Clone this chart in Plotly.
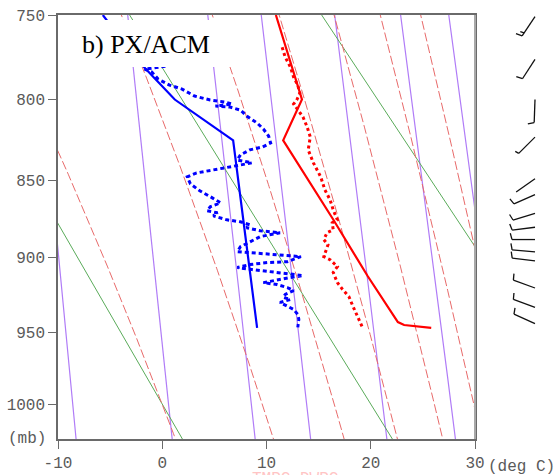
import numpy as np
import plotly.graph_objects as go

KAPPA = 2.0 / 7.0
P_TOP, P_BOT = 750.0, 1025.0
T_MIN, T_MAX = -10, 30

pres_ticks = [750, 800, 850, 900, 950, 1000]
temp_ticks = [-10, 0, 10, 20, 30]

# model sounding (solid)
model_t_p = [750, 800, 825, 875, 912, 932, 943, 945, 947]
model_t = [10.9, 13.4, 11.6, 16.4, 19.7, 21.6, 22.6, 23.2, 25.8]
model_td_p = [750, 775, 800, 825, 947]
model_td = [-5.7, -2.6, 1.2, 6.8, 9.1]

# observed sounding (dotted)
obs_t_p = [768.8, 774.7, 780.6, 786.5, 791.3, 796.1, 800.3, 802.7, 810.6, 816.8,
           822.9, 830.9, 839.0, 847.8, 856.0, 862.4, 868.8, 875.2, 877.1, 881.6,
           883.6, 888.1, 891.4, 899.2, 901.2, 905.8, 909.7, 916.4, 921.0, 925.7,
           932.4, 939.1, 946.6]
obs_t = [11.5, 11.8, 12.3, 12.6, 13.0, 13.2, 12.9, 12.6, 13.5, 13.9,
         14.2, 14.0, 14.5, 15.2, 15.6, 16.1, 16.4, 16.8, 16.3, 16.4,
         15.8, 15.5, 15.9, 15.5, 16.1, 16.8, 16.4, 16.8, 17.3, 17.9,
         18.3, 18.7, 19.2]
obs_td_p = [780.0, 781.8, 783.5, 787.7, 791.3, 793.7, 797.9, 800.3, 801.5, 802.7,
            804.0, 804.6, 806.4, 810.0, 814.3, 818.0, 822.3, 826.6, 829.1, 830.9,
            834.0, 837.2, 839.0, 841.5, 843.4, 845.3, 847.8, 852.2, 856.6, 861.1,
            864.3, 866.8, 869.4, 870.7, 872.6, 875.2, 876.5, 878.4, 880.3, 882.3,
            883.6, 886.1, 889.4, 892.7, 895.9, 896.6, 897.9, 899.2, 902.5, 903.1,
            904.4, 906.4, 907.7, 909.1, 910.4, 911.7, 913.0, 915.0, 916.4, 917.7,
            919.7, 921.7, 924.3, 926.3, 927.7, 929.7, 932.4, 934.4, 937.8, 941.1,
            946.6]
obs_td = [0.3, -1.7, -1.0, -0.4, 0.7, 1.9, 3.1, 4.6, 6.0, 6.7,
          5.1, 6.5, 7.5, 8.1, 9.1, 9.7, 10.2, 10.4, 9.6, 8.4,
          7.5, 7.2, 8.6, 6.7, 4.9, 3.3, 2.4, 2.7, 3.6, 4.8,
          5.6, 4.6, 4.3, 5.3, 4.9, 6.2, 7.5, 8.4, 8.1, 9.4,
          11.3, 9.4, 8.4, 7.5, 7.2, 8.6, 10.4, 13.3, 12.0, 10.1,
          8.4, 7.2, 8.6, 10.4, 12.3, 13.5, 12.3, 10.6, 9.7, 11.0,
          12.0, 12.6, 11.8, 11.6, 12.3, 11.3, 12.0, 12.6, 13.0, 13.1,
          13.0]

# wind barbs (direction from, speed in knots)
barb_p = [751, 776, 800, 823, 849, 859, 871, 880, 888, 896, 902, 920, 933, 944]
barb_dir = [214, 213, 182, 225, 235, 246, 253, 263, 270, 275, 277, 290, 290, 294]
barb_spd = [15, 10, 10, 5, 0, 10, 10, 10, 10, 10, 10, 10, 10, 10]

# background lines
mixr_vals = [2, 4, 7, 10, 16, 24, 32]          # g/kg
theta_vals = [0, 20, 40]                        # deg C (dry adiabats)
thetaw_vals = [0, 9.6, 16.5, 21.7, 26.1, 29.9, 33.3]  # deg C at 1000 mb

def yv(p):
    return np.asarray(p, dtype=float) ** KAPPA

p_line = np.linspace(740, 1035, 120)

def es(tc):
    return 6.112 * np.exp(17.67 * tc / (tc + 243.5))

def mixr_td(w, p):
    e = p * w / (622.0 + w)
    a = np.log(e / 6.112)
    return 243.5 * a / (17.67 - a)

def moist(tw):
    Rd, cp, Lv, eps = 287.04, 1005.7, 2.501e6, 0.622
    def f(T, lnp):
        p = np.exp(lnp)
        e = es(T - 273.15)
        rs = eps * e / (p - e)
        return (Rd * T + Lv * rs) / (cp + Lv * Lv * rs * eps / (Rd * T * T))
    out = {}
    for target in (740.0, 1035.0):
        T = tw + 273.15
        lnp = np.log(1000.0)
        n = 200
        h = (np.log(target) - lnp) / n
        pts = []
        for i in range(n + 1):
            pts.append((np.exp(lnp), T - 273.15))
            k1 = f(T, lnp); k2 = f(T + h * k1 / 2, lnp + h / 2)
            k3 = f(T + h * k2 / 2, lnp + h / 2); k4 = f(T + h * k3, lnp + h)
            T += h * (k1 + 2 * k2 + 2 * k3 + k4) / 6
            lnp += h
        out[target] = pts
    pts = out[740.0][::-1] + out[1035.0][1:]
    return [q[0] for q in pts], [q[1] for q in pts]

fig = go.Figure()

for w in mixr_vals:
    fig.add_trace(go.Scatter(x=mixr_td(w, p_line), y=yv(p_line), mode="lines",
                             line=dict(color="#b07cf7", width=1.2), hoverinfo="skip"))
for th in theta_vals:
    t = (th + 273.15) * (p_line / 1000.0) ** KAPPA - 273.15
    fig.add_trace(go.Scatter(x=t, y=yv(p_line), mode="lines",
                             line=dict(color="#5aab5a", width=1), hoverinfo="skip"))
for tw in thetaw_vals:
    pp, tt = moist(tw)
    fig.add_trace(go.Scatter(x=tt, y=yv(pp), mode="lines",
                             line=dict(color="#e86a6a", width=1, dash="9px,3px"), hoverinfo="skip"))

fig.add_trace(go.Scatter(x=obs_t, y=yv(obs_t_p), mode="lines",
                         line=dict(color="#ff0000", width=3, dash="3px,3px")))
fig.add_trace(go.Scatter(x=obs_td, y=yv(obs_td_p), mode="lines",
                         line=dict(color="#0000ff", width=3, dash="4px,3px")))
fig.add_trace(go.Scatter(x=model_t, y=yv(model_t_p), mode="lines",
                         line=dict(color="#ff0000", width=2.2)))
fig.add_trace(go.Scatter(x=model_td, y=yv(model_td_p), mode="lines",
                         line=dict(color="#0000ff", width=2.2)))

W, H = 557, 475
ML, MR, MT, MB = 58, 82, 15, 36
PW, PH = W - ML - MR, H - MT - MB
y_top, y_bot = P_TOP ** KAPPA, P_BOT ** KAPPA

def ypaper(p):
    return 1 - (p ** KAPPA - y_top) / (y_bot - y_top)

shapes = []
# wind barbs
st_x = (535 - ML) / PW
staff = 23.0
for p, d, s in zip(barb_p, barb_dir, barb_spd):
    y0 = ypaper(p)
    r = np.radians(d)
    ux, uy = np.sin(r), np.cos(r)
    x1 = st_x + staff * ux / PW
    y1 = y0 + staff * uy / PH
    shapes.append(dict(type="line", xref="paper", yref="paper", x0=st_x, y0=y0, x1=x1, y1=y1,
                       line=dict(color="#111111", width=1.3)))
    rb = np.radians(d + 75)
    bx, by = np.sin(rb), np.cos(rb)
    pos = 0.0
    rem = s
    while rem >= 5:
        ln = 6.5 if rem >= 10 else 4.0
        sx = x1 - pos * ux / PW
        sy = y1 - pos * uy / PH
        shapes.append(dict(type="line", xref="paper", yref="paper", x0=sx, y0=sy,
                           x1=sx + ln * bx / PW, y1=sy + ln * by / PH,
                           line=dict(color="#111111", width=1.3)))
        rem -= 10 if rem >= 10 else 5
        pos += 3.5

# label box
shapes.append(dict(type="rect", xref="paper", yref="paper", layer="above",
                   x0=(62 - ML) / PW, x1=(248 - ML) / PW,
                   y0=1 - (67 - MT) / PH, y1=1 - (20 - MT) / PH,
                   fillcolor="white", line=dict(width=0)))
# right border lighter
shapes.append(dict(type="line", xref="paper", yref="paper", x0=1, x1=1, y0=0, y1=1,
                   line=dict(color="#a8a8a8", width=2), layer="above"))

tickfont = dict(family="Liberation Mono", size=16, color="#5a5a5a")
annotations = [
    dict(text="b) PX/ACM", xref="paper", yref="paper", x=(80 - ML) / PW, y=1 - (44 - MT) / PH,
         xanchor="left", yanchor="middle", showarrow=False,
         font=dict(family="Liberation Serif", size=26, color="black")),
    dict(text="(mb)", xref="paper", yref="paper", x=(27 - ML) / PW, y=0,
         xanchor="center", yanchor="middle", showarrow=False, font=tickfont),
    dict(text="(deg C)", xref="paper", yref="paper", x=(521 - ML) / PW, y=-(467 - (H - MB)) / PH,
         xanchor="center", yanchor="middle", showarrow=False, font=tickfont),
    dict(text="TMPC DWPC", xref="paper", yref="paper", x=(295 - ML) / PW, y=-(468 - (H - MB)) / PH,
         xanchor="center", yanchor="top", showarrow=False,
         font=dict(family="Liberation Mono", size=16, color="#ffc4c4")),
]

fig.update_layout(
    width=W, height=H, margin=dict(l=ML, r=MR, t=MT, b=MB, autoexpand=False),
    plot_bgcolor="white", paper_bgcolor="white", showlegend=False,
    shapes=shapes, annotations=annotations,
    xaxis=dict(range=[T_MIN, T_MAX], tickvals=temp_ticks, ticktext=[str(t) for t in temp_ticks],
               ticks="outside", ticklen=8, tickcolor="#6a6a6a", showgrid=False, zeroline=False,
               showline=True, mirror=True, linecolor="#6a6a6a", linewidth=1.5, tickfont=tickfont),
    yaxis=dict(range=[y_bot, y_top], tickvals=list(yv(pres_ticks)),
               ticktext=[str(p) for p in pres_ticks],
               ticks="outside", ticklen=8, tickcolor="#6a6a6a", showgrid=False, zeroline=False,
               showline=True, mirror=True, linecolor="#6a6a6a", linewidth=1.5, tickfont=tickfont),
)

fig.write_html("out.html", config={"displayModeBar": False},
               post_script="document.body.style.margin='0px';document.body.style.overflow='hidden';")
